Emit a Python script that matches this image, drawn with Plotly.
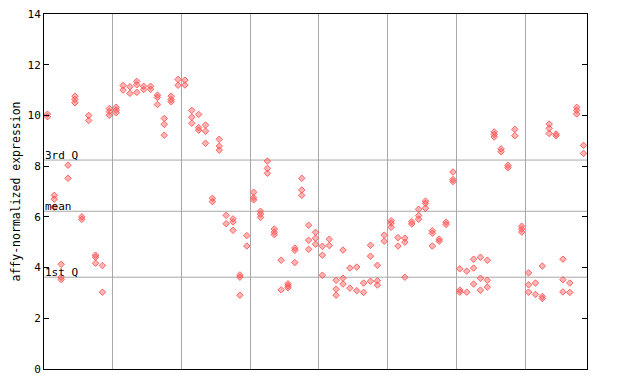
import plotly.graph_objects as go

# replicate values per sample (sample number = position in list, starting at 1)
replicates = [
    [10.05, 9.95], [6.85, 6.7, 6.38], [4.13, 3.62, 3.53], [8.04, 7.52], [10.76, 10.63, 10.5],
    [6.0, 5.9], [10.0, 9.8], [4.49, 4.41, 4.17], [4.08, 3.03], [10.27, 10.15, 10.01],
    [10.32, 10.21, 10.11], [11.18, 11.0], [11.13, 10.87], [11.34, 11.21, 10.91], [11.15, 11.02],
    [11.15, 11.03], [10.8, 10.71, 10.43], [9.88, 9.65, 9.22], [10.76, 10.63, 10.54], [11.42, 11.19],
    [11.39, 11.2], [10.2, 9.93, 9.69], [10.04, 9.52, 9.42], [9.62, 9.38, 8.9], [6.73, 6.6],
    [9.06, 8.79, 8.63], [6.06, 5.73], [5.92, 5.8, 5.47], [3.71, 3.62, 2.91], [5.26, 4.85],
    [6.97, 6.76, 6.67], [6.22, 6.11, 5.98], [8.2, 7.91, 7.72], [5.52, 5.4, 5.3], [4.29, 3.12],
    [3.36, 3.28, 3.2], [4.77, 4.68, 4.2], [7.52, 7.06, 6.85], [5.67, 5.08, 4.72], [5.39, 5.16, 4.92],
    [4.84, 4.49, 3.7], [5.12, 4.87], [3.5, 3.15, 2.91], [4.69, 3.58, 3.35], [3.98, 3.19],
    [4.02, 3.09], [3.39, 3.02], [4.88, 4.45, 3.46], [4.09, 3.48, 3.31], [5.28, 5.04],
    [5.85, 5.75, 5.59], [5.18, 4.85], [5.16, 5.0, 3.62], [5.81, 5.72], [6.3, 6.05, 5.91],
    [6.62, 6.53, 6.34], [5.45, 5.35, 4.85], [5.12, 5.04], [5.79, 5.7], [7.77, 7.47, 7.39],
    [3.95, 3.11, 3.03], [3.86, 3.03], [4.33, 3.98, 3.35], [4.41, 3.58, 3.11], [4.29, 3.5, 3.23],
    [9.35, 9.25, 9.15], [8.68, 8.57], [8.03, 7.94], [9.45, 9.2], [5.63, 5.52, 5.4],
    [3.79, 3.32, 3.03], [3.39, 2.94], [4.06, 2.86, 2.78], [9.66, 9.49, 9.29], [9.27, 9.2],
    [4.33, 3.52, 3.04], [3.39, 3.02], [10.32, 10.2, 10.06], [8.82, 8.5],
]

stat_labels = ["3rd Q", "mean", "1st Q"]
stat_values = [8.24, 6.22, 3.62]
y_ticks = [0, 2, 4, 6, 8, 10, 12, 14]
group_boundaries = [10.5, 20.5, 30.5, 40.5, 50.5, 60.5, 70.5]

xs, ys = [], []
for i, vals in enumerate(replicates, start=1):
    for v in vals:
        xs.append(i)
        ys.append(v)

mono = "DejaVu Sans Mono"
fig = go.Figure()
fig.add_trace(go.Scatter(
    x=xs, y=ys, mode="markers",
    marker=dict(symbol="diamond", size=5, color="rgba(255,90,90,0.45)",
                line=dict(color="rgba(255,80,80,0.85)", width=1)),
    hoverinfo="x+y", showlegend=False,
))

shapes = []
for v in stat_values:
    shapes.append(dict(type="line", xref="paper", x0=0, x1=1, yref="y", y0=v, y1=v,
                       line=dict(color="#a8a8a8", width=1), layer="below"))
annotations = []
for lab, v in zip(stat_labels, stat_values):
    annotations.append(dict(text=lab, xref="paper", x=0, xanchor="left", yref="y", y=v,
                            yanchor="bottom", showarrow=False, borderpad=0, yshift=-3,
                            font=dict(family=mono, size=11, color="black")))
annotations.append(dict(text="affy-normalized expression", xref="paper", x=0, xshift=-29,
                        xanchor="center", yref="paper", y=0.5, yanchor="middle",
                        textangle=-90, showarrow=False,
                        font=dict(family=mono, size=11.5, color="black")))

fig.update_layout(
    width=640, height=384,
    margin=dict(l=36, r=61, t=6, b=23),
    plot_bgcolor="white", paper_bgcolor="white",
    shapes=shapes, annotations=annotations,
    xaxis=dict(range=[0.5, 79.5], tickvals=group_boundaries, showticklabels=False,
               ticks="", showgrid=True, gridcolor="#a8a8a8", gridwidth=1, automargin=False,
               showline=True, linecolor="black", linewidth=1, mirror=True, zeroline=False),
    yaxis=dict(range=[0, 14], tickvals=y_ticks, ticks="inside", ticklen=5, automargin=False,
               ticklabeloverflow="allow",
               tickcolor="black", showgrid=False, zeroline=False,
               showline=True, linecolor="black", linewidth=1, mirror="ticks",
               tickfont=dict(family=mono, size=11, color="black")),
)

fig.write_html("out.html")
